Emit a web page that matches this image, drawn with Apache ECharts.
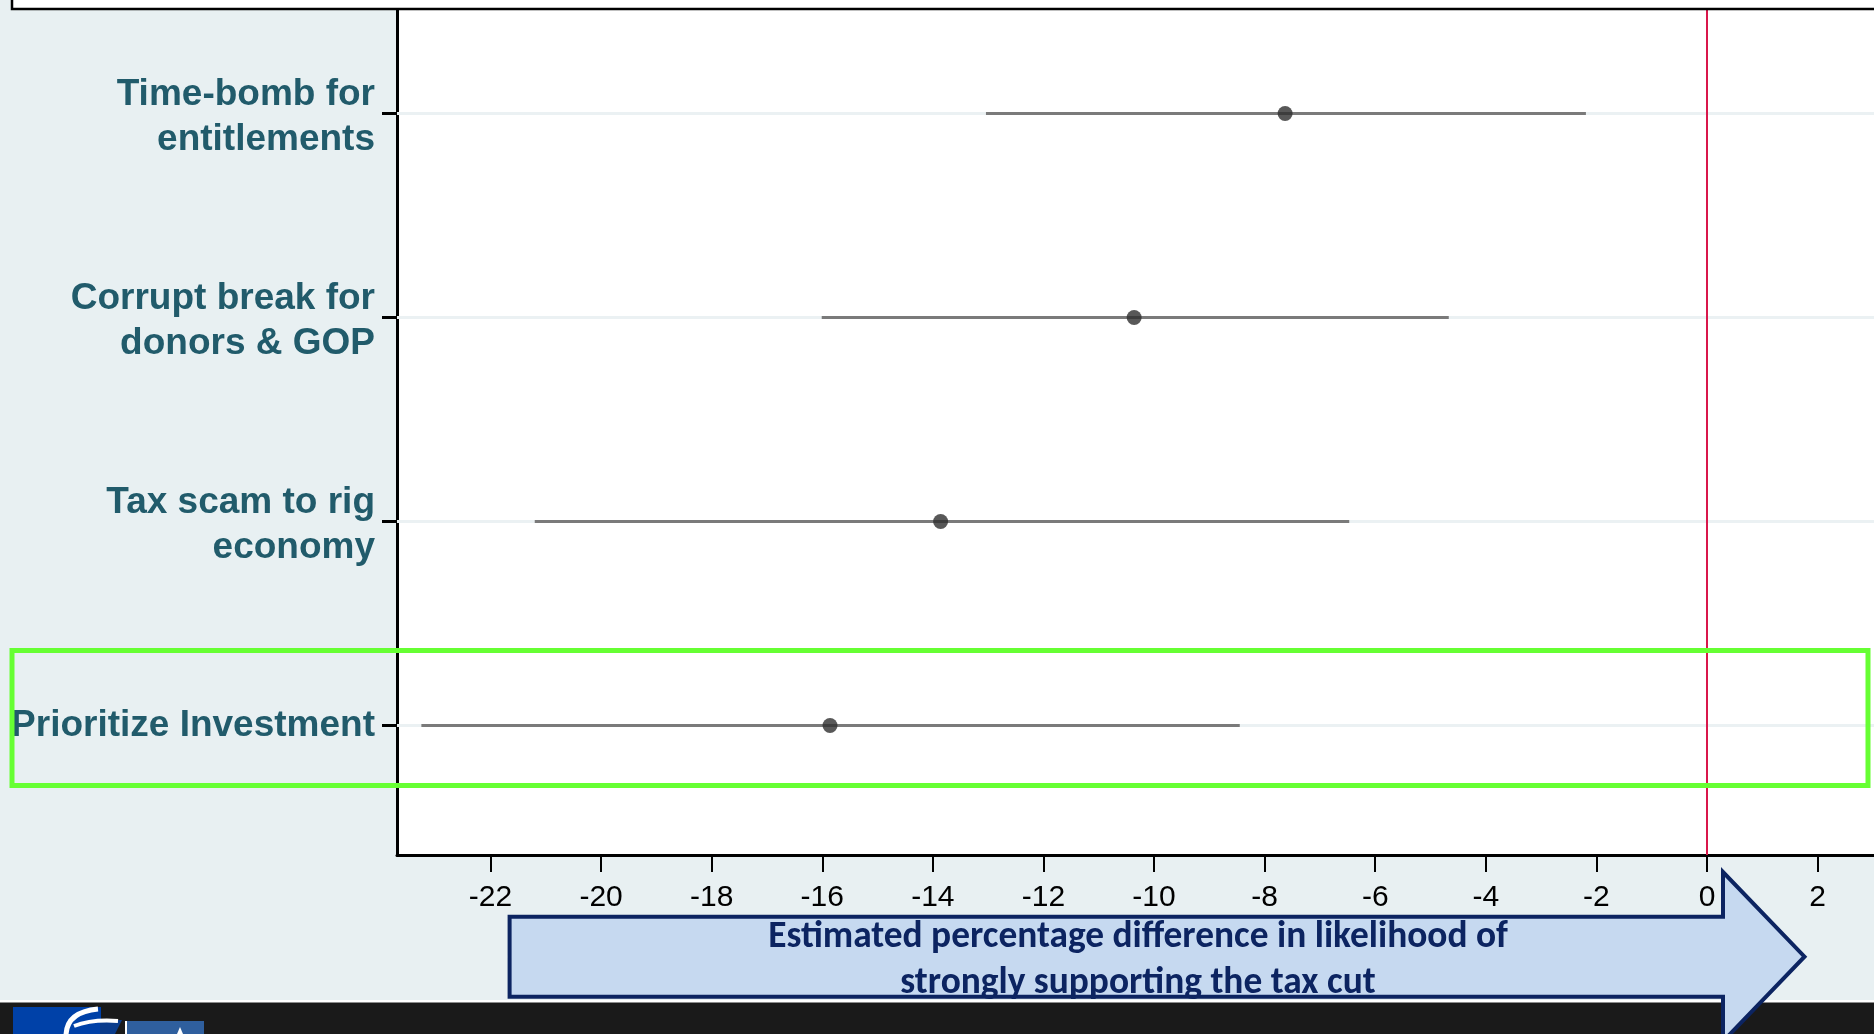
<!DOCTYPE html>
<html><head><meta charset="utf-8">
<script src="https://cdn.jsdelivr.net/npm/echarts@6/dist/echarts.min.js"></script>
<style>html,body{margin:0;padding:0;background:#E8F0F2;}#c{width:1874px;height:1034px;}</style>
</head><body><div id="c"></div>
<script>
// ---- data ----
const categories = ['Time-bomb for\nentitlements', 'Corrupt break for\ndonors & GOP', 'Tax scam to rig\neconomy', 'Prioritize Investment'];
const estimates = [-7.63, -10.36, -13.86, -15.86];
const lowerBounds = [-13.04, -16.01, -21.20, -23.25];
const upperBounds = [-2.19, -4.67, -6.47, -8.45];
const xTicks = [-22, -20, -18, -16, -14, -12, -10, -8, -6, -4, -2, 0, 2];
const referenceLine = [0];
const axisTitleLines = ['Estimated percentage difference in likelihood of', 'strongly supporting the tax cut'];
const highlightedCategory = 'Prioritize Investment';

// ---- helpers ----
const n = categories.length;
const yPos = categories.map((c, i) => n - i);   // top category gets highest value

function fitFont(text, family, weight, targetWidth) {
  const cv = document.createElement('canvas').getContext('2d');
  cv.font = weight + ' 100px ' + family;
  return 100 * targetWidth / cv.measureText(text).width;
}
const arrowFamily = '"Carlito", "Liberation Sans Narrow", "DejaVu Sans Condensed", sans-serif';
const arrowFont = Math.min(40, fitFont(axisTitleLines[0], arrowFamily, 'bold', 740));

function labelFormatter(v) {
  const lines = categories[n - Math.round(v)].split('\n');
  if (lines.length === 1) return '{s|' + lines[0] + '}';
  return '{a|' + lines[0] + '}\n{b|' + lines[1] + '}';
}

const chart = echarts.init(document.getElementById('c'), null, {renderer: 'canvas'});

const arrowPts = [[509.6, 916.7], [1723, 916.7], [1723, 872], [1804.5, 956.7], [1723, 1041.4], [1723, 996.7], [509.6, 996.7]];
const labelFont = {fontSize: 37, fontWeight: 'bold', color: '#215B6B', fontFamily: '"Liberation Sans", Arial, sans-serif', align: 'right'};

const option = {
  backgroundColor: '#E8F0F2',
  animation: false,
  grid: {left: 397, top: 9, right: 0, bottom: 179, show: true, backgroundColor: '#ffffff', borderWidth: 0, outerBoundsMode: 'none'},
  xAxis: {
    type: 'value', min: -23.691, max: 3.02,
    axisLine: {show: true, onZero: false, lineStyle: {color: '#000', width: 3}},
    axisTick: {show: true, customValues: xTicks, length: 17, lineStyle: {color: '#000', width: 2}},
    axisLabel: {customValues: xTicks, fontSize: 30, color: '#000', margin: 28, fontFamily: '"Liberation Sans", Arial, sans-serif'},
    splitLine: {show: false}
  },
  yAxis: {
    type: 'value', min: 0.365, max: 4.512,
    axisLine: {show: true, onZero: false, lineStyle: {color: '#000', width: 3}},
    axisTick: {show: true, customValues: yPos, length: 15, lineStyle: {color: '#000', width: 3}},
    axisLabel: {
      customValues: yPos,
      formatter: labelFormatter,
      margin: 22,
      align: 'right',
      rich: {
        a: Object.assign({lineHeight: 52}, labelFont),
        b: Object.assign({lineHeight: 38}, labelFont),
        s: Object.assign({lineHeight: 44}, labelFont)
      }
    },
    splitLine: {show: false}
  },
  series: [
    {
      type: 'custom',
      z: 2,
      encode: {x: [0, 1], y: 2},
      data: lowerBounds.map((lo, i) => [lo, upperBounds[i], yPos[i]]),
      renderItem: function (params, api) {
        const cs = params.coordSys;
        const lo = api.coord([api.value(0), api.value(2)]);
        const hi = api.coord([api.value(1), api.value(2)]);
        return {
          type: 'group',
          children: [
            {type: 'line', shape: {x1: cs.x, y1: lo[1], x2: cs.x + cs.width, y2: lo[1]}, style: {stroke: '#EBF1F3', lineWidth: 3}},
            {type: 'line', shape: {x1: lo[0], y1: lo[1], x2: hi[0], y2: hi[1]}, style: {stroke: '#7A7A7A', lineWidth: 3}}
          ]
        };
      }
    },
    {
      type: 'scatter',
      z: 3,
      symbol: 'circle',
      symbolSize: 15,
      itemStyle: {color: '#2E2E2E'},
      data: estimates.map((e, i) => [e, yPos[i]]),
      markLine: {
        silent: true,
        symbol: ['none', 'none'],
        label: {show: false},
        lineStyle: {color: '#D9174B', width: 2, type: 'solid'},
        data: referenceLine.map(v => ({xAxis: v}))
      }
    }
  ],
  graphic: {elements: [
    {type: 'rect', z: 100, shape: {x: 12, y: -20, width: 1900, height: 29}, style: {fill: '#ffffff', stroke: '#000000', lineWidth: 2.5}},
    {type: 'rect', z: 100, shape: {x: 12, y: 650.5, width: 1856, height: 135}, style: {fill: 'none', stroke: '#66FF33', lineWidth: 5}},
    {type: 'rect', z: 90, shape: {x: 0, y: 1000, width: 1874, height: 3}, style: {fill: '#ffffff'}},
    {type: 'rect', z: 90, shape: {x: 0, y: 1002.5, width: 1874, height: 40}, style: {fill: '#1A1A1A'}},
    {type: 'rect', z: 91, shape: {x: 13, y: 1007, width: 88, height: 30}, style: {fill: '#0041A8'}},
    {type: 'polygon', z: 91, shape: {points: [[100, 1020], [122, 1020], [114, 1036], [100, 1036]]}, style: {fill: '#0A3C8C'}},
    {type: 'bezierCurve', z: 92, shape: {x1: 66, y1: 1036, x2: 98, y2: 1009, cpx1: 66, cpy1: 1012}, style: {fill: 'none', stroke: '#ffffff', lineWidth: 5}},
    {type: 'bezierCurve', z: 92, shape: {x1: 74, y1: 1026, x2: 118, y2: 1021, cpx1: 92, cpy1: 1019}, style: {fill: 'none', stroke: '#ffffff', lineWidth: 4}},
    {type: 'rect', z: 91, shape: {x: 126, y: 1021, width: 78, height: 15}, style: {fill: '#2F5F9E'}},
    {type: 'rect', z: 91, shape: {x: 125, y: 1021, width: 2, height: 15}, style: {fill: '#ffffff'}},
    {type: 'polygon', z: 92, shape: {points: [[177, 1034], [180, 1027], [183, 1034]]}, style: {fill: '#ffffff'}},
    {type: 'polygon', z: 110, shape: {points: arrowPts}, style: {fill: '#C6D9F0'}},
    {type: 'text', z: 111, x: 1138, y: 938, style: {text: axisTitleLines[0], fontFamily: arrowFamily, fontWeight: 'bold', fontSize: arrowFont, fill: '#0C2461', align: 'center', verticalAlign: 'middle'}},
    {type: 'text', z: 111, x: 1138, y: 984, style: {text: axisTitleLines[1], fontFamily: arrowFamily, fontWeight: 'bold', fontSize: arrowFont, fill: '#0C2461', align: 'center', verticalAlign: 'middle'}},
    {type: 'polygon', z: 112, shape: {points: arrowPts}, style: {fill: 'none', stroke: '#0C2461', lineWidth: 4}}
  ]}
};
chart.setOption(option);
</script>
</body></html>
